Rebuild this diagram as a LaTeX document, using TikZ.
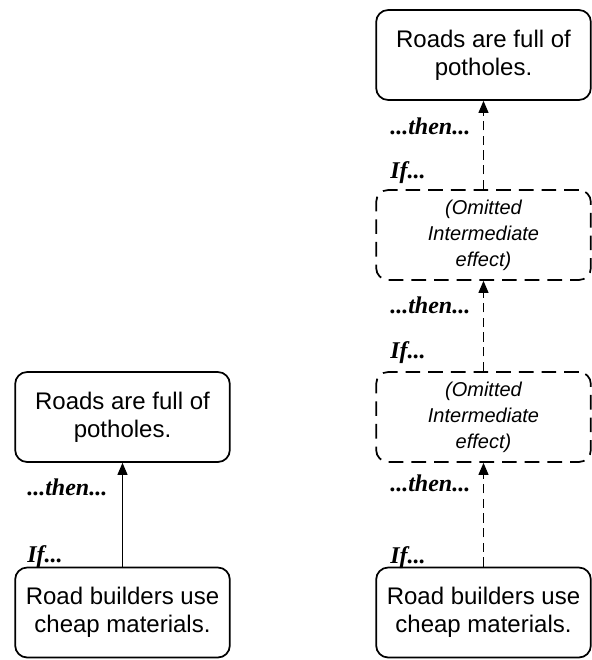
\documentclass[tikz,border=0pt]{standalone}
\usepackage{fontspec}
\setmainfont{Liberation Serif}
\setsansfont{Liberation Sans}
\usetikzlibrary{arrows.meta}
\tikzset{
    effect/.style={draw=black, line width=1.3pt, rounded corners=9pt, align=center,
        minimum width=161pt, minimum height=67.5pt, inner sep=0pt,
        font=\sffamily\fontsize{18}{21}\selectfont},
    omitted/.style={effect, dash pattern=on 11pt off 6pt,
        font=\sffamily\itshape\fontsize{15}{19.5}\selectfont},
    cue/.style={anchor=west, inner sep=0pt, font=\bfseries\itshape\fontsize{18}{21}\selectfont},
    cause/.style={draw=black, line width=0.8pt, -{Triangle[length=9pt, width=7.5pt]}},
    weakcause/.style={cause, dash pattern=on 7pt off 4pt}}

\begin{document}
\begin{tikzpicture}[x=0.75pt, y=-0.75pt]

            \useasboundingbox (0,0) rectangle (592,660);

            % left: direct link
            \node[effect] (roadsL) at (122.5,417) {Roads are full of\\potholes.};
            \node[effect] (buildL) at (122.5,612.5) {Road builders use\\cheap materials.};
            \node[cue] (thenL) at (27,487) {...then...};
            \node[cue] (ifL) at (27,557) {If...};

            \draw[cause] (buildL) -- (roadsL);

            % right: chain with omitted steps
            \node[effect] (roadsR) at (483.5,55) {Roads are full of\\potholes.};
            \node[omitted] (omitA) at (483.5,235) {(Omitted\\Intermediate\\effect)};
            \node[omitted] (omitB) at (483.5,417) {(Omitted\\Intermediate\\effect)};
            \node[effect] (buildR) at (483.5,612.5) {Road builders use\\cheap materials.};

            \node[cue] (thenRa) at (390,126) {...then...};
            \node[cue] (ifRa) at (390,173) {If...};
            \node[cue] (thenRb) at (390,305) {...then...};
            \node[cue] (ifRb) at (390,353) {If...};
            \node[cue] (thenRc) at (390,483) {...then...};
            \node[cue] (ifRc) at (390,558) {If...};

            \draw[weakcause] (buildR) -- (omitB);
            \draw[weakcause] (omitB) -- (omitA);
            \draw[weakcause] (omitA) -- (roadsR);

        \end{tikzpicture}
\end{document}
